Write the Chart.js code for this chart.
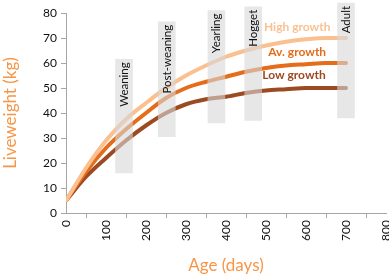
<!DOCTYPE html>
<html>
<head>
<meta charset="utf-8">
<script src="https://cdn.jsdelivr.net/npm/chart.js@4.4.0/dist/chart.umd.min.js"></script>
<style>
  html, body { margin: 0; padding: 0; background: #fff; }
  #wrap { width: 389px; height: 276px; }
</style>
</head>
<body>
<div id="wrap"><canvas id="myChart"></canvas></div>
<script>
const CHART = document.getElementById("myChart");

// age in days
const days = [0, 50, 100, 150, 200, 250, 300, 350, 400, 450, 500, 550, 600, 650, 700];
const highGrowth = [5, 18, 29, 37.5, 44, 50, 55, 59, 62.5, 65, 67, 68.5, 69.5, 70, 70];
const avGrowth   = [5, 16.5, 26, 33.5, 40, 46, 50, 52.5, 54.5, 56.5, 58, 59, 59.5, 60, 60];
const lowGrowth  = [5, 14.5, 22, 29, 35, 40, 43.5, 45.5, 46.5, 48, 49, 49.5, 50, 50, 50];

// life stages: centre day and liveweight range of the grey band
const stages = ['Weaning', 'Post-weaning', 'Yearling', 'Hogget', 'Adult'];
const stageDay = [145, 252, 376, 468, 700];
const stageLow = [16, 30.5, 36, 37, 38];
const stageHigh = [61.5, 76.5, 81, 82.5, 84];

// series label anchors (day, kg)
const seriesNames = ['High growth', 'Av. growth', 'Low growth'];
const seriesLabelDay = [578, 578, 570];
const seriesLabelKg = [74.5, 64.5, 55];
const seriesColors = ['#fac090', '#e46c1a', '#9c4a22'];

const FONT = 'Lato, "Open Sans", sans-serif';

function series(vals) {
  return days.map((d, i) => ({x: d, y: vals[i]}));
}

const labelsPlugin = {
  id: 'labels',
  afterDatasetsDraw(chart) {
    const ctx = chart.ctx;
    const xs = chart.scales.x, ys = chart.scales.y;
    ctx.save();
    // stage names inside bands, rotated
    ctx.font = '11.5px ' + FONT;
    ctx.fillStyle = '#111';
    ctx.textAlign = 'right';
    ctx.textBaseline = 'middle';
    stages.forEach((s, i) => {
      const px = xs.getPixelForValue(stageDay[i]);
      const py = ys.getPixelForValue(stageHigh[i]) + 3;
      ctx.save();
      ctx.translate(px, py);
      ctx.rotate(-Math.PI / 2);
      ctx.fillText(s, 0, 0);
      ctx.restore();
    });
    // series names
    ctx.font = 'bold 12px ' + FONT;
    ctx.textAlign = 'center';
    seriesNames.forEach((s, i) => {
      ctx.fillStyle = seriesColors[i];
      ctx.fillText(s, xs.getPixelForValue(seriesLabelDay[i]), ys.getPixelForValue(seriesLabelKg[i]));
    });
    ctx.restore();
  }
};

const lineStyle = (label, vals, color) => ({
  type: 'line',
  label: label,
  data: series(vals),
  borderColor: color,
  backgroundColor: color,
  borderWidth: 4,
  pointRadius: 0,
  fill: false,
  cubicInterpolationMode: 'monotone',
  borderCapStyle: 'round',
  order: 2
});

let chart = new Chart(CHART, {
  data: {
    datasets: [
      {
        type: 'bar',
        label: 'Stages',
        data: stageDay.map((d, i) => ({x: d, y: [stageLow[i], stageHigh[i]]})),
        backgroundColor: 'rgba(215,215,215,0.6)',
        borderWidth: 0,
        barThickness: 17,
        clip: false,
        order: 1
      },
      lineStyle('High growth', highGrowth, '#fac090'),
      lineStyle('Av. growth', avGrowth, '#e46c1a'),
      lineStyle('Low growth', lowGrowth, '#9c4a22')
    ]
  },
  options: {
    responsive: true,
    maintainAspectRatio: false,
    animation: false,
    layout: { padding: { top: 13, right: 3, left: 0, bottom: 0 } },
    plugins: { legend: { display: false }, tooltip: { enabled: false } },
    scales: {
      x: {
        type: 'linear',
        min: 0, max: 800,
        offset: false,
        border: { color: '#a6a6a6', width: 1 },
        grid: { drawOnChartArea: false, color: '#a6a6a6', tickLength: 5 },
        ticks: { stepSize: 100, color: '#111', font: { size: 12, family: FONT }, maxRotation: 90, minRotation: 90, padding: 2 },
        title: { display: true, text: 'Age (days)', color: '#f79646', font: { size: 17, family: FONT }, padding: { top: 2, bottom: 0 } },
        afterFit(s) { s.height = 63; s.paddingRight = 0; s.paddingLeft = 0; }
      },
      y: {
        min: 0, max: 80,
        border: { color: '#a6a6a6', width: 1 },
        grid: { drawOnChartArea: false, color: '#a6a6a6', tickLength: 5 },
        ticks: { stepSize: 10, color: '#111', font: { size: 12, family: FONT }, padding: 4 },
        title: { display: true, text: 'Liveweight (kg)', color: '#f79646', font: { size: 17, family: FONT }, padding: { top: 0, bottom: 4 } },
        afterFit(s) { s.width = 66; s.paddingTop = 0; s.paddingBottom = 0; }
      }
    }
  },
  plugins: [labelsPlugin]
});
</script>
</body>
</html>
